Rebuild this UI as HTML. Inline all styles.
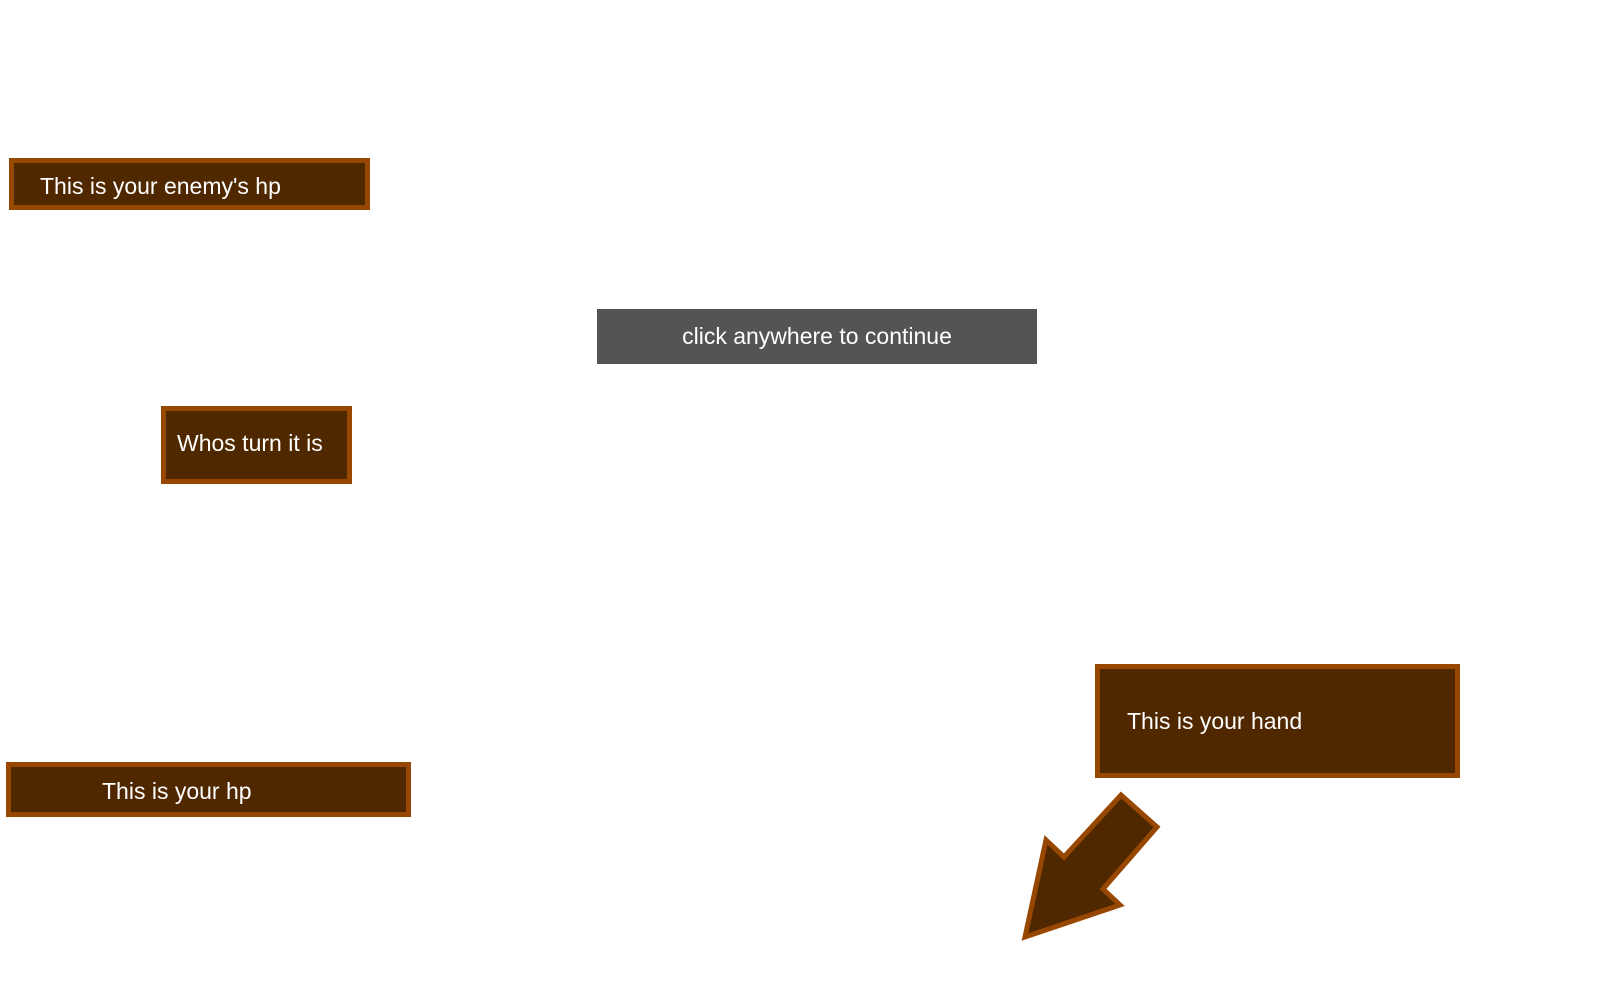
<!DOCTYPE html>
<html><head><style>
body{margin:0;width:1600px;height:1000px;background:#fff;position:relative;overflow:hidden;font-family:"Liberation Sans",sans-serif;}
.b{position:absolute;box-sizing:border-box;background:#502800;border:5px solid #974700;color:#fff;font-size:23px;display:flex;align-items:center;white-space:nowrap;padding-top:4px;}
</style></head><body>
<div class="b" style="left:9px;top:158px;width:361px;height:52px;padding-left:26px;">This is your enemy's hp</div>
<div class="b" style="left:161px;top:406px;width:191px;height:78px;padding-left:11px;padding-top:0;padding-bottom:4px;">Whos turn it is</div>
<div class="b" style="left:6px;top:762px;width:405px;height:55px;padding-left:91px;">This is your hp</div>
<div class="b" style="left:1095px;top:664px;width:365px;height:114px;padding-left:27px;padding-top:0;">This is your hand</div>
<div style="position:absolute;left:597px;top:309px;width:440px;height:55px;background:#545454;color:#fff;font-size:23px;display:flex;align-items:center;justify-content:center;">click anywhere to continue</div>
<svg style="position:absolute;left:0;top:0" width="1600" height="1000">
<polygon points="1121,795 1157,827 1103,889 1120,905 1025,937 1046,840 1064,857" fill="#502800" stroke="#974700" stroke-width="5" stroke-linejoin="miter"/>
</svg>
</body></html>
